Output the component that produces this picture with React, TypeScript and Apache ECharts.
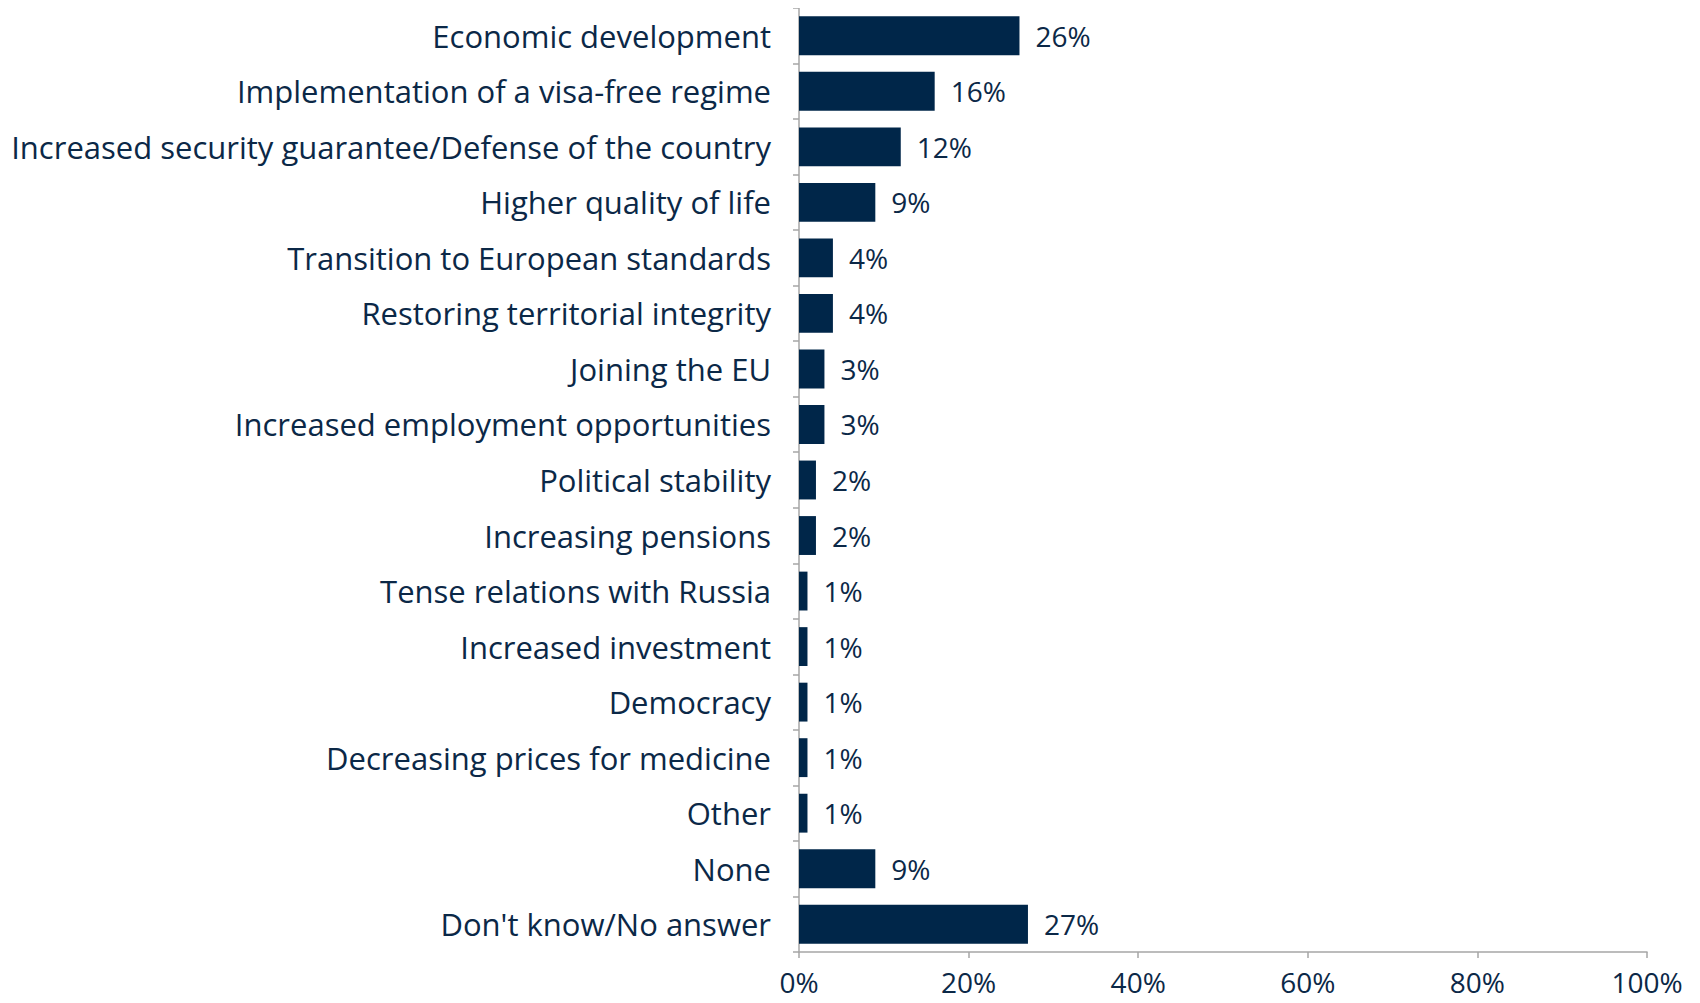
import React, { useEffect, useRef } from "react";
import * as echarts from "echarts";

const categories = [
  "Economic development",
  "Implementation of a visa-free regime",
  "Increased security guarantee/Defense of the country",
  "Higher quality of life",
  "Transition to European standards",
  "Restoring territorial integrity",
  "Joining the EU",
  "Increased employment opportunities",
  "Political stability",
  "Increasing pensions",
  "Tense relations with Russia",
  "Increased investment",
  "Democracy",
  "Decreasing prices for medicine",
  "Other",
  "None",
  "Don't know/No answer",
];
const values = [26, 16, 12, 9, 4, 4, 3, 3, 2, 2, 1, 1, 1, 1, 1, 9, 27];
const xTicks = [0, 20, 40, 60, 80, 100];

const NAVY = "#002649";
const TEXT = "#0b2847";
const FONT = "'Open Sans', sans-serif";

export default function App() {
  const ref = useRef<HTMLDivElement>(null);
  useEffect(() => {
    if (!ref.current) return;
    const chart = echarts.init(ref.current, null, { renderer: "svg" });
    chart.setOption({
      animation: false,
      grid: { left: 799, right: 53, top: 8, bottom: 51, containLabel: false },
      xAxis: {
        type: "value",
        min: xTicks[0],
        max: xTicks[xTicks.length - 1],
        interval: 20,
        splitLine: { show: false },
        axisLine: { show: true, lineStyle: { color: "#a6a6a6", width: 1.5 } },
        axisTick: { show: true, length: 6, lineStyle: { color: "#a6a6a6", width: 1.5 } },
        axisLabel: {
          formatter: "{value}%",
          color: TEXT,
          fontFamily: FONT,
          fontSize: 28,
          margin: 16,
        },
      },
      yAxis: {
        type: "category",
        inverse: true,
        data: categories,
        axisLine: { show: true, lineStyle: { color: "#a6a6a6", width: 1.5 } },
        axisTick: { show: true, length: 6, lineStyle: { color: "#a6a6a6", width: 1.5 } },
        axisLabel: {
          color: TEXT,
          fontFamily: FONT,
          fontSize: 31,
          margin: 28,
        },
      },
      series: [
        {
          type: "bar",
          data: values,
          barCategoryGap: "30%",
          itemStyle: { color: NAVY },
          label: {
            show: true,
            position: "right",
            distance: 16,
            formatter: "{c}%",
            color: TEXT,
            fontFamily: FONT,
            fontSize: 28,
          },
        },
      ],
    });
    return () => chart.dispose();
  }, []);
  return <div ref={ref} style={{ width: 1700, height: 1003, margin: -8 }} />;
}
